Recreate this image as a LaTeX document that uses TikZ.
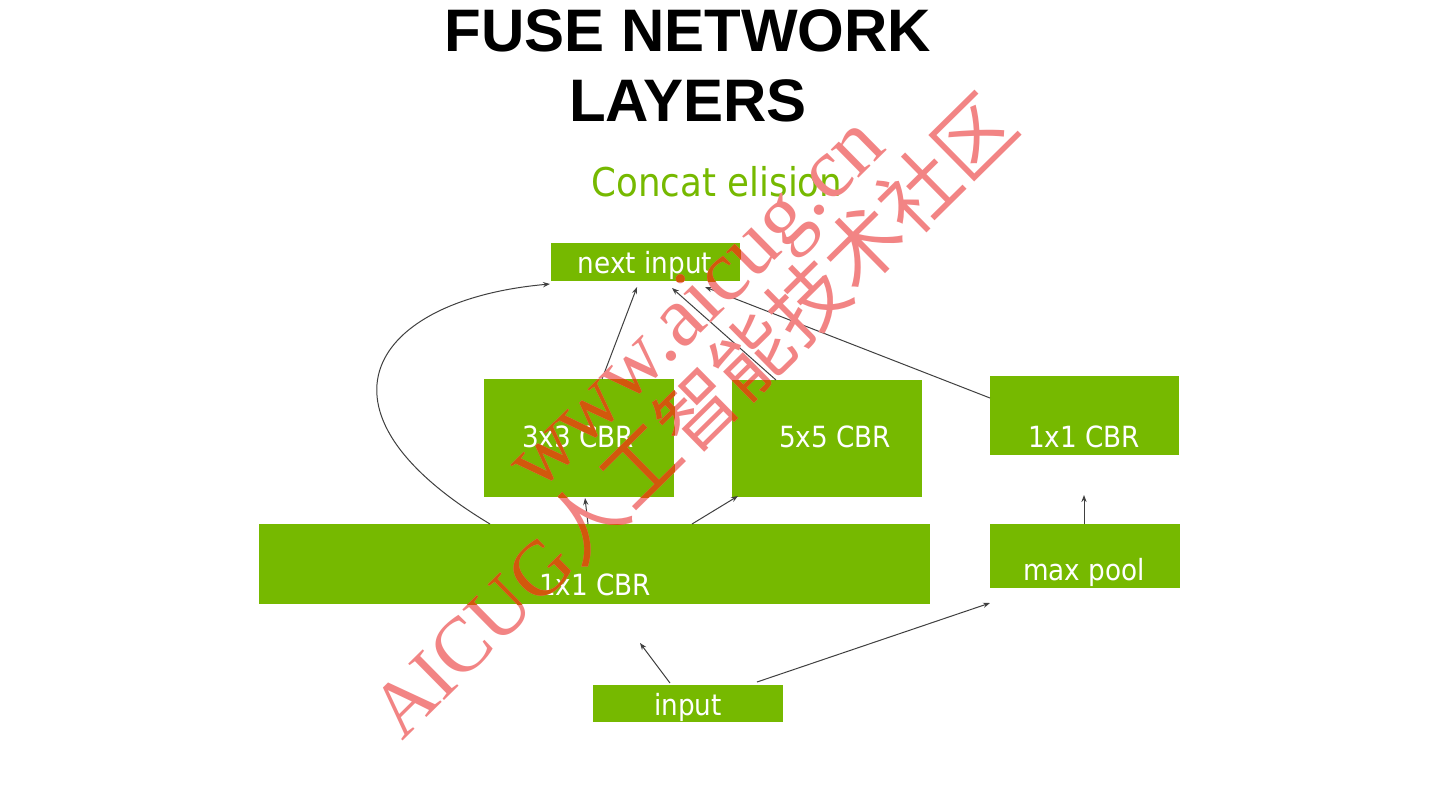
\documentclass[tikz,border=0pt]{standalone}
\usepackage{fontspec}
\setmainfont{DejaVu Sans}[FakeStretch=0.9]
\newfontfamily\titlefont{Liberation Sans}
\newfontfamily\wmserif{Liberation Serif}
\newfontfamily\wmcjk{Noto Sans CJK SC}
\usetikzlibrary{arrows.meta,calc}
\definecolor{nvgreen}{HTML}{76B900}
\definecolor{wmred}{HTML}{F28484}
\definecolor{wmorange}{HTML}{D2580C}
\definecolor{arrowgray}{HTML}{404040}
\newcommand\wmlineA{{\wmserif AICUG}{\wmcjk 人工智能技术社区}}
\newcommand\wmlineB{{\wmserif www.aicug.cn}}
\begin{document}
\begin{tikzpicture}[x=0.5pt,y=-0.5pt,
  box/.style={rectangle,fill=nvgreen,draw=none,inner sep=0pt},
  lbl/.style={text=white,font=\fontsize{14.6pt}{14.6pt}\selectfont,anchor=base,inner sep=0pt},
  arr/.style={draw=arrowgray,line width=0.5pt,-{Stealth[length=3.5pt,width=2.6pt]}},
  wm/.style={rotate=44.6,anchor=base west,inner sep=0pt}]
\useasboundingbox[fill=white] (0,0) rectangle (1440,810);

% title
\node[anchor=base,inner sep=0pt,font=\titlefont\bfseries\fontsize{30pt}{30pt}\selectfont] (t1) at (688,51) {FUSE NETWORK};
\node[anchor=base,inner sep=0pt,font=\titlefont\bfseries\fontsize{30pt}{30pt}\selectfont] (t2) at (688,121) {LAYERS};
\node[anchor=base,inner sep=0pt,text=nvgreen,font=\fontsize{19.8pt}{19.8pt}\selectfont] (sub) at (717,196) {Concat elision};

% boxes
\node[box,minimum width=94.5pt,minimum height=19pt] (ni) at (645.5,262) {};
\node[box,minimum width=95pt,minimum height=59pt] (c3) at (579,438) {};
\node[box,minimum width=95pt,minimum height=58.5pt] (c5) at (827,438.5) {};
\node[box,minimum width=94.5pt,minimum height=39.5pt] (c1r) at (1084.5,415.5) {};
\node[box,minimum width=335.5pt,minimum height=40pt] (c1) at (594.5,564) {};
\node[box,minimum width=95pt,minimum height=32pt] (mp) at (1085,556) {};
\node[box,minimum width=95pt,minimum height=18.5pt] (in) at (688,703.5) {};

% labels
\node[lbl] (lni) at (645,273) {next input};
\node[lbl] (lc3) at (578,447) {3x3 CBR};
\node[lbl] (lc5) at (835,447) {5x5 CBR};
\node[lbl] (lc1r) at (1084,447) {1x1 CBR};
\node[lbl] (lc1) at (595,595) {1x1 CBR};
\node[lbl] (lmp) at (1084,580) {max pool};
\node[lbl] (lin) at (688,715) {input};

% connector end points
\coordinate (a1s) at (490,524); \coordinate (a1e) at (550,284);
\coordinate (a2s) at (602,379); \coordinate (a2e) at (637,287);
\coordinate (a3s) at (776,380); \coordinate (a3e) at (672,288);
\coordinate (a4s) at (990,398); \coordinate (a4e) at (705,287);
\coordinate (a5s) at (588,524); \coordinate (a5e) at (585,498);
\coordinate (a6s) at (692,524); \coordinate (a6e) at (738,496);
\coordinate (a7s) at (1084,524); \coordinate (a7e) at (1084,495);
\coordinate (a8s) at (670,683); \coordinate (a8e) at (640,643);
\coordinate (a9s) at (757,682); \coordinate (a9e) at (990,603);

\draw[arr] (a1s) .. controls (300,410) and (370,300) .. (a1e);
\draw[arr] (a2s) -- (a2e);
\draw[arr] (a3s) -- (a3e);
\draw[arr] (a4s) -- (a4e);
\draw[arr] (a5s) -- (a5e);
\draw[arr] (a6s) -- (a6e);
\draw[arr] (a7s) -- (a7e);
\draw[arr] (a8s) -- (a8e);
\draw[arr] (a9s) -- (a9e);

% watermark
\node[wm,text=wmred,font=\fontsize{39pt}{39pt}\selectfont] (wmA) at (402,742) {\wmlineA};
\node[wm,text=wmred,font=\fontsize{43pt}{43pt}\selectfont] (wmB) at (538,494) {\wmlineB};
\begin{scope}
  \clip (ni.south west) rectangle (ni.north east)
        (c3.south west) rectangle (c3.north east)
        (c5.south west) rectangle (c5.north east)
        (c1.south west) rectangle (c1.north east);
  \node[wm,text=wmorange,font=\fontsize{39pt}{39pt}\selectfont] (wmA2) at (402,742) {\wmlineA};
  \node[wm,text=wmorange,font=\fontsize{43pt}{43pt}\selectfont] (wmB2) at (538,494) {\wmlineB};
\end{scope}
\end{tikzpicture}
\end{document}
